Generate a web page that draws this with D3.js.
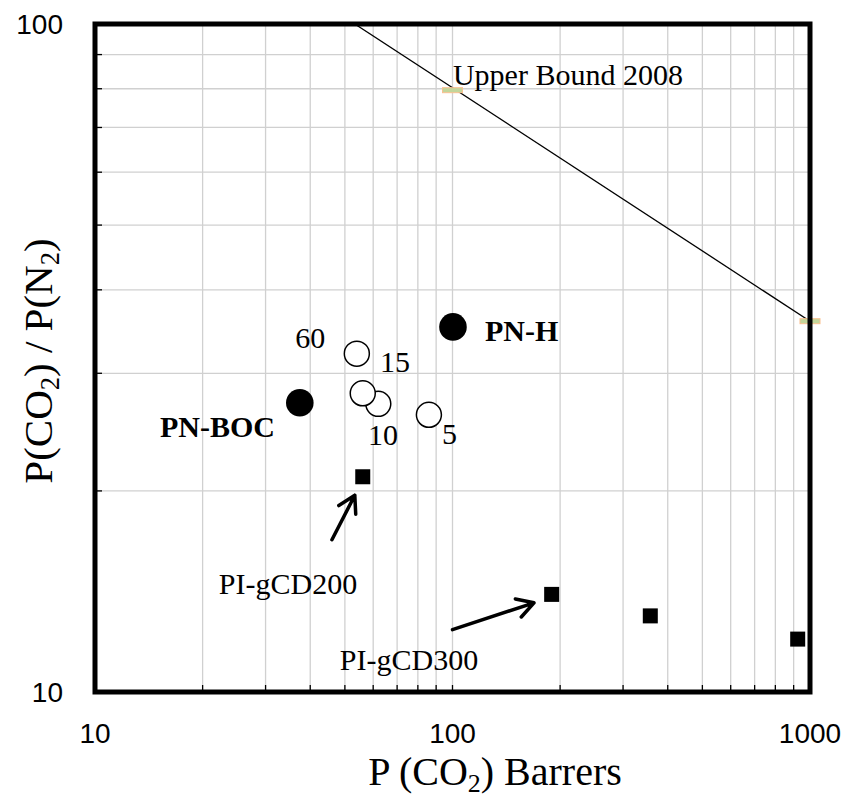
<!DOCTYPE html>
<html>
<head>
<meta charset="utf-8">
<script src="https://cdn.jsdelivr.net/npm/d3@7"></script>
<style>
  html, body { margin: 0; padding: 0; background: #fff; }
  svg { display: block; }
  .tick-label { font-family: "Liberation Sans", Arial, sans-serif; font-size: 28px; fill: #000; }
  .serif { font-family: "Liberation Serif", "Times New Roman", serif; fill: #000; }
</style>
</head>
<body>
<svg id="chart" width="848" height="796"></svg>
<script>
// CO2/N2 Robeson-style plot — log/log.

// ─── Data ────────────────────────────────────────────────────────────────
const xTicks = [10, 100, 1000];
const yTicks = [10, 100];
const xGrid = [20, 30, 40, 50, 60, 70, 80, 90, 100, 200, 300, 400, 500, 600, 700, 800, 900];
const yGrid = [20, 30, 40, 50, 60, 70, 80, 90];

// PN-BOC / PN-H (filled circles)
const pnNames = ['PN-BOC', 'PN-H'];
const pnP     = [37.4, 100.3];
const pnSel   = [27.1, 35.2];

// series labelled by time (open circles)
const timeLabels = ['5', '10', '15', '60'];
const timeP      = [85.9, 62.0, 56.1, 54.0];
const timeSel    = [26.0, 27.0, 28.0, 32.1];

// PI-gCD (filled squares)
const piP   = [56.1, 189.4, 357.5, 923.8];
const piSel = [21.0, 14.0, 13.0, 12.0];

// Upper bound 2008 line + its two markers
const boundLineP   = [53.3, 1000];
const boundLineSel = [100, 35.9];
const boundMarkP   = [100, 1000];
const boundMarkSel = [79.6, 35.9];

// annotation text, anchored at data coords (start, baseline)
const noteText = ['Upper Bound 2008', 'PN-H', 'PN-BOC', '60', '15', '10', '5', 'PI-gCD200', 'PI-gCD300'];
const noteP    = [100.3, 123.3, 15.2, 36.3, 62.7, 58.0, 93.5, 22.2, 48.4];
const noteSel  = [81.0, 33.5, 24.1, 32.7, 30.1, 23.4, 23.5, 14.0, 10.8];
const noteBold = [false, true, true, false, false, false, false, false, false];

// arrows: tail -> tip
const arrowFromP   = [46.0, 100];
const arrowFromSel = [16.9, 12.4];
const arrowToP     = [53.3, 169];
const arrowToSel   = [19.7, 13.6];

// ─── Layout ──────────────────────────────────────────────────────────────
const M = { left: 95, top: 24, right: 38, bottom: 104 };
const W = 848 - M.left - M.right;   // 715
const H = 796 - M.top - M.bottom;   // 668

const x = d3.scaleLog().domain([10, 1000]).range([0, W]);
const y = d3.scaleLog().domain([10, 100]).range([H, 0]);

const svg = d3.select('#chart');
svg.append('defs').append('clipPath').attr('id', 'clip')
  .append('rect').attr('width', W).attr('height', H);

const g = svg.append('g').attr('transform', `translate(${M.left},${M.top})`);

// grid
g.append('g').selectAll('line').data(xGrid).join('line')
  .attr('x1', d => x(d)).attr('x2', d => x(d))
  .attr('y1', 0).attr('y2', H)
  .attr('stroke', '#d0d0d0').attr('stroke-width', 1.3);
g.append('g').selectAll('line').data(yGrid).join('line')
  .attr('y1', d => y(d)).attr('y2', d => y(d))
  .attr('x1', 0).attr('x2', W)
  .attr('stroke', '#d0d0d0').attr('stroke-width', 1.3);

// small inner ticks on left and bottom edges
g.append('g').selectAll('line').data(yGrid).join('line')
  .attr('y1', d => y(d)).attr('y2', d => y(d))
  .attr('x1', 0).attr('x2', 7)
  .attr('stroke', '#000').attr('stroke-width', 1.3);
g.append('g').selectAll('line').data(xGrid).join('line')
  .attr('x1', d => x(d)).attr('x2', d => x(d))
  .attr('y1', H).attr('y2', H - 7)
  .attr('stroke', '#000').attr('stroke-width', 1.3);

// upper bound line
const line = d3.line().x(d => x(d[0])).y(d => y(d[1]));
g.append('path')
  .datum(boundLineP.map((p, i) => [p, boundLineSel[i]]))
  .attr('clip-path', 'url(#clip)')
  .attr('d', line)
  .attr('fill', 'none').attr('stroke', '#000').attr('stroke-width', 1.3);

g.append('g').selectAll('rect').data(boundMarkP).join('rect')
  .attr('x', d => x(d) - 10)
  .attr('y', (d, i) => y(boundMarkSel[i]) - 2.5)
  .attr('width', 20).attr('height', 5)
  .attr('fill', '#c3d69b').attr('stroke', '#fac090').attr('stroke-width', 1);

// frame
g.append('rect').attr('width', W).attr('height', H)
  .attr('fill', 'none').attr('stroke', '#000').attr('stroke-width', 5);

// open circles (time series)
g.append('g').selectAll('circle').data(timeP).join('circle')
  .attr('cx', d => x(d))
  .attr('cy', (d, i) => y(timeSel[i]))
  .attr('r', 12.5)
  .attr('fill', '#fff').attr('stroke', '#000').attr('stroke-width', 1.5);

// filled circles
g.append('g').selectAll('circle').data(pnP).join('circle')
  .attr('cx', d => x(d))
  .attr('cy', (d, i) => y(pnSel[i]))
  .attr('r', 13.8)
  .attr('fill', '#000');

// squares
g.append('g').selectAll('rect').data(piP).join('rect')
  .attr('x', d => x(d) - 7.5)
  .attr('y', (d, i) => y(piSel[i]) - 7.5)
  .attr('width', 15).attr('height', 15)
  .attr('fill', '#000');

// arrows
arrowFromP.forEach((p, i) => {
  const x0 = x(p), y0 = y(arrowFromSel[i]);
  const x1 = x(arrowToP[i]), y1 = y(arrowToSel[i]);
  const a = Math.atan2(y1 - y0, x1 - x0);
  const L = 19, spread = Math.PI / 6;
  const h1 = [x1 - L * Math.cos(a - spread), y1 - L * Math.sin(a - spread)];
  const h2 = [x1 - L * Math.cos(a + spread), y1 - L * Math.sin(a + spread)];
  g.append('path')
    .attr('d', `M${x0},${y0}L${x1},${y1}M${h1[0]},${h1[1]}L${x1},${y1}L${h2[0]},${h2[1]}`)
    .attr('fill', 'none').attr('stroke', '#000')
    .attr('stroke-width', 3.5).attr('stroke-linecap', 'round').attr('stroke-linejoin', 'round');
});

// annotations
g.append('g').selectAll('text').data(noteText).join('text')
  .attr('class', 'serif')
  .attr('x', (d, i) => x(noteP[i]))
  .attr('y', (d, i) => y(noteSel[i]))
  .attr('font-size', 30)
  .attr('font-weight', (d, i) => noteBold[i] ? 'bold' : 'normal')
  .text(d => d);

// tick labels
svg.append('g').selectAll('text').data(xTicks).join('text')
  .attr('class', 'tick-label')
  .attr('x', d => M.left + x(d))
  .attr('y', M.top + H + 51)
  .attr('text-anchor', 'middle')
  .text(d => d);
svg.append('g').selectAll('text').data(yTicks).join('text')
  .attr('class', 'tick-label')
  .attr('x', 63)
  .attr('y', d => M.top + y(d) + 10)
  .attr('text-anchor', 'end')
  .text(d => d);

// axis titles with subscripts
function sub(sel, s) {
  sel.append('tspan').attr('font-size', '65%').attr('dy', '0.25em').text(s);
}
const xt = svg.append('text').attr('class', 'serif')
  .attr('x', 495).attr('y', 785).attr('text-anchor', 'middle').attr('font-size', 40);
xt.append('tspan').text('P (CO');
sub(xt, '2');
xt.append('tspan').attr('dy', '-0.16em').text(') Barrers');

const yt = svg.append('text').attr('class', 'serif')
  .attr('transform', 'translate(52,361) rotate(-90)')
  .attr('text-anchor', 'middle').attr('font-size', 41);
yt.append('tspan').text('P(CO');
sub(yt, '2');
yt.append('tspan').attr('dy', '-0.16em').text(') / P(N');
sub(yt, '2');
yt.append('tspan').attr('dy', '-0.16em').text(')');
</script>
</body>
</html>
